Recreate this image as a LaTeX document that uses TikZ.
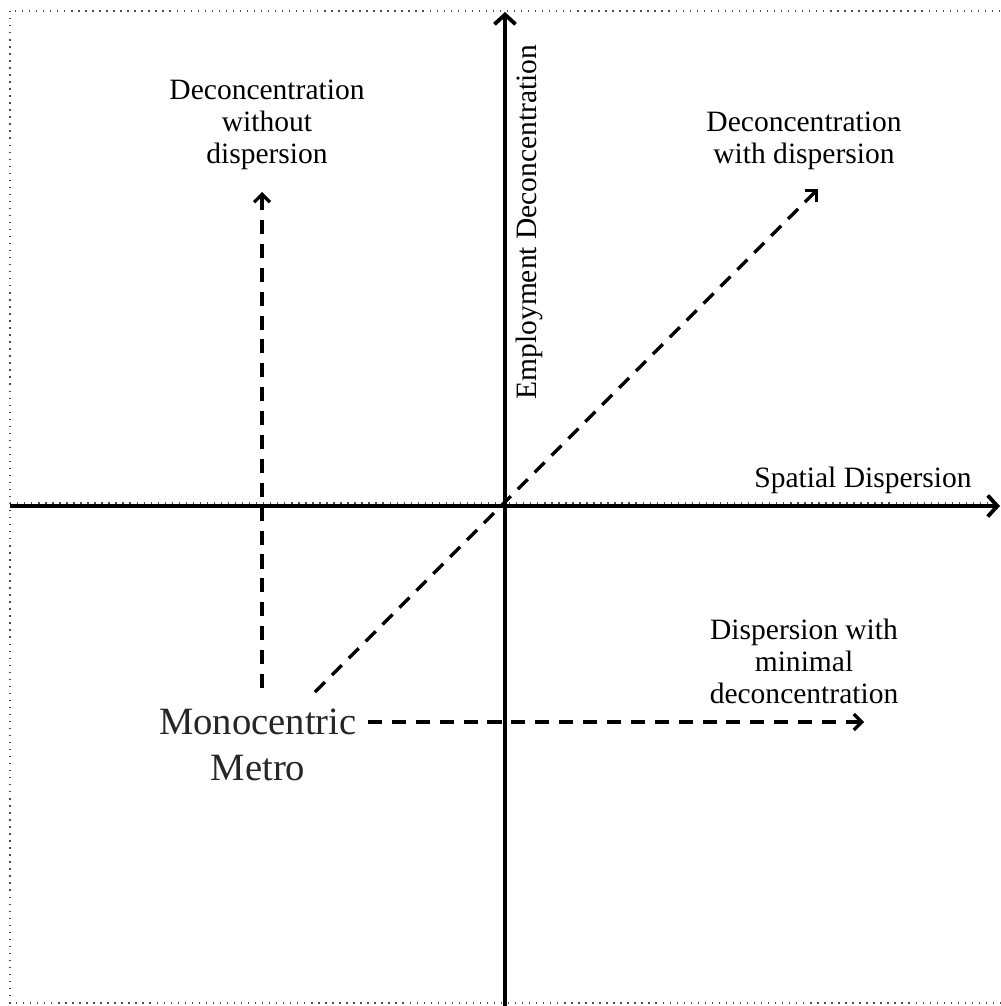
\documentclass[tikz,border=0pt]{standalone}
\usepackage{fontspec}
\setmainfont{Liberation Serif}
\usepackage{tikz}
\usetikzlibrary{arrows.meta}
\tikzset{
  axis/.style={line width=2.5pt,draw=black,-{Straight Barb[length=5.5pt,width=12pt,line width=2.2pt]}},
  flow/.style={line width=2pt,draw=black,dash pattern=on 8pt off 5.6pt,-{Straight Barb[length=4.5pt,width=9pt,line width=1.9pt]}},
  frame/.style={line width=0.8pt,draw=black!70,dash pattern=on 0.8pt off 3.2pt},
  label/.style={align=center,font=\fontsize{16.8}{18.2}\selectfont},
  bigtext/.style={align=center,font=\fontsize{22}{26}\selectfont\color{black!85}}
}
\begin{document}
\begin{tikzpicture}[x=0.02cm,y=-0.02cm]
      \useasboundingbox (0,0) rectangle (1000,1006);
      \draw[frame] (10,11) rectangle (1010,1003);
      \draw[frame] (10,503) -- (1000,503);
      % axes
      \coordinate (xs) at (10,506);
      \coordinate (xe) at (1000,506);
      \coordinate (ys) at (505,1006);
      \coordinate (ye) at (505,12);
      \draw[axis] (xs) -- (xe);
      \draw[axis] (ys) -- (ye);
      \node[label] (xlab) at (863,480) {Spatial Dispersion};
      \node[label,rotate=90] (ylab) at (529,222) {Employment Deconcentration};
      % labels
      \node[bigtext] (mono) at (258,745) {Monocentric\\Metro};
      \node[label] (nodisp) at (267,125) {Deconcentration\\without\\dispersion};
      \node[label] (withdisp) at (804,141) {Deconcentration\\with dispersion};
      \node[label] (mindec) at (804,661) {Dispersion with\\minimal\\deconcentration};
      % flows
      \coordinate (up0) at (262,688);
      \coordinate (up1) at (262,192);
      \coordinate (dg0) at (315,692);
      \coordinate (dg1) at (818,189);
      \coordinate (rt0) at (368,722);
      \coordinate (rt1) at (864,722);
      \draw[flow] (up0) -- (up1);
      \draw[flow] (dg0) -- (dg1);
      \draw[flow] (rt0) -- (rt1);
    \end{tikzpicture}
\end{document}
